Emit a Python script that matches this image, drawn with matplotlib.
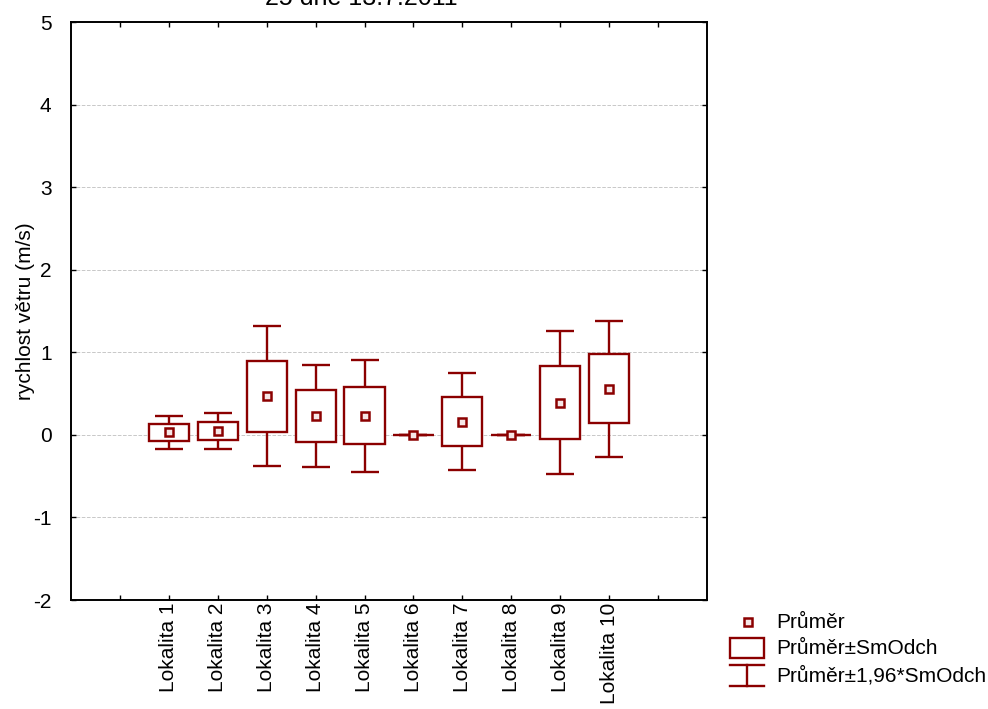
import matplotlib
matplotlib.use("Agg")
import matplotlib.pyplot as plt
from matplotlib.lines import Line2D
from matplotlib.patches import Rectangle

plt.rcParams['font.family'] = ['Liberation Sans', 'DejaVu Sans']
plt.rcParams['axes.unicode_minus'] = False

# data
lokality = ['Lokalita 1', 'Lokalita 2', 'Lokalita 3', 'Lokalita 4', 'Lokalita 5',
            'Lokalita 6', 'Lokalita 7', 'Lokalita 8', 'Lokalita 9', 'Lokalita 10']
prumer = [0.03, 0.05, 0.47, 0.23, 0.23, 0.0, 0.16, 0.0, 0.39, 0.56]
smodch = [0.10, 0.11, 0.43, 0.315, 0.345, 0.0, 0.30, 0.0, 0.44, 0.42]

barva = '#8b0000'
W, H = 988, 709

fig = plt.figure(figsize=(9.88, 7.09), dpi=100)
ax = fig.add_axes([71 / W, 1 - 600 / H, (707 - 71) / W, (600 - 22) / H])

pozice = list(range(2, 2 + len(lokality)))
dolni = [m - s for m, s in zip(prumer, smodch)]
vyska = [2 * s for s in smodch]
chyba = [1.96 * s for s in smodch]

# whiskers (mean +- 1.96*SD)
ax.errorbar(pozice, prumer, yerr=chyba, fmt='none', ecolor=barva,
            elinewidth=1.7, capsize=9.8, capthick=1.7, zorder=2)
# boxes (mean +- SD)
ax.bar(pozice, vyska, bottom=dolni, width=0.82, facecolor='white',
       edgecolor=barva, linewidth=1.7, zorder=3)
# means
ax.plot(pozice, prumer, linestyle='none', marker='s', markersize=6,
        markerfacecolor='#f6e6e6', markeredgecolor=barva, markeredgewidth=1.8,
        zorder=4)

ax.set_xlim(0, 13)
ax.set_ylim(-2, 5)
ax.set_yticks(range(-2, 6))
ax.set_xticks(range(1, 13))
ax.set_xticklabels([''] + lokality + [''], rotation=90, fontsize=15)
ax.tick_params(axis='y', labelsize=15, pad=14)
ax.tick_params(axis='x', pad=2)
ax.tick_params(direction='in', length=3.5, width=1, top=True, right=True)
ax.grid(axis='y', color='#c8c8c8', linestyle='--', linewidth=0.7)
ax.set_axisbelow(True)
for sp in ax.spines.values():
    sp.set_linewidth(1.4)

ax.set_ylabel('rychlost větru (m/s)', fontsize=15)
ax.yaxis.set_label_coords((35 - 71) / (707 - 71), 0.5)

# title (cut off by the top edge in the original)
fig.text(361 / W, 1 - 5 / H, '25 dne 13.7.2011', ha='center', va='baseline',
         fontsize=18)

# legend drawn by hand
def fx(x):
    return x / W

def fy(y):
    return 1 - y / H

fig.add_artist(Line2D([fx(748)], [fy(622)], marker='s', markersize=6,
                      markerfacecolor='#f6e6e6', markeredgecolor=barva,
                      markeredgewidth=1.8, transform=fig.transFigure))
fig.add_artist(Rectangle((fx(730), fy(658)), fx(764) - fx(730), fy(638) - fy(658),
                         facecolor='white', edgecolor=barva, linewidth=1.7,
                         transform=fig.transFigure))
for yy in (665, 686):
    fig.add_artist(Line2D([fx(730), fx(764)], [fy(yy), fy(yy)], color=barva,
                          linewidth=1.7, transform=fig.transFigure))
fig.add_artist(Line2D([fx(747), fx(747)], [fy(665), fy(686)], color=barva,
                      linewidth=1.7, transform=fig.transFigure))

popisky = ['Průměr', 'Průměr±SmOdch', 'Průměr±1,96*SmOdch']
for text, yy in zip(popisky, [622, 648, 676]):
    fig.text(fx(776), fy(yy), text, ha='left', va='center', fontsize=15)

fig.savefig('out.png', dpi=100)
